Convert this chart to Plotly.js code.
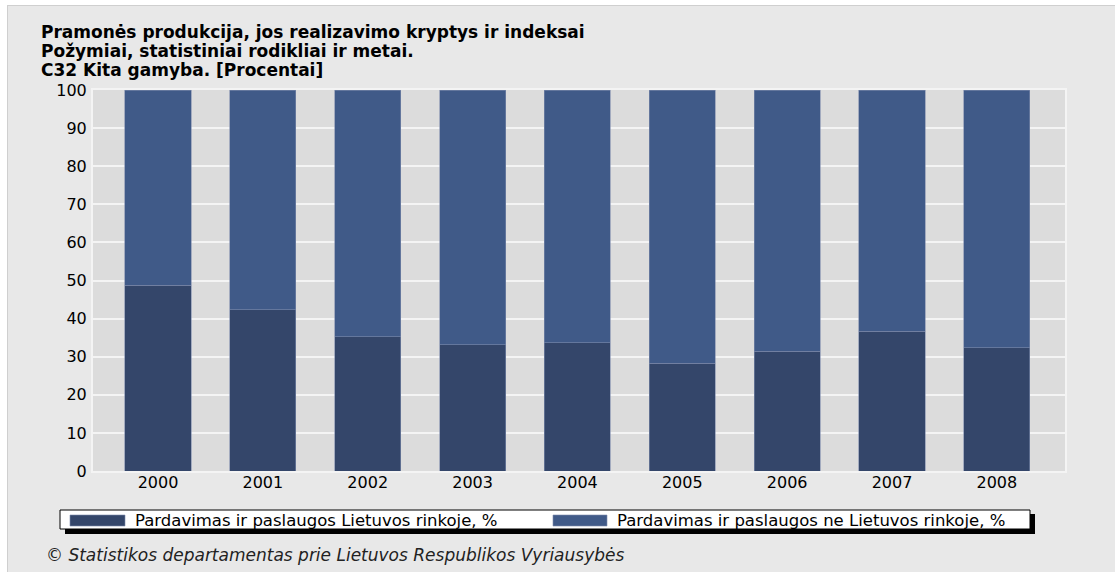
<!DOCTYPE html>
<html><head><meta charset="utf-8">
<script src="https://cdn.plot.ly/plotly-3.0.1.min.js"></script>
<style>
html,body{margin:0;padding:0;background:#fff;overflow:hidden;}
#frame{position:absolute;left:7px;top:5px;width:1108px;height:567px;border-left:1px solid #cfcfcf;border-top:1px solid #cfcfcf;background:#e8e8e8;}
#chart{width:1107px;height:566px;}
</style></head><body><div id="frame"><div id="chart"></div></div>
<script>
const years = ['2000','2001','2002','2003','2004','2005','2006','2007','2008'];
const domestic = [48.7, 42.3, 35.3, 33.2, 33.6, 28.3, 31.4, 36.7, 32.4];
const foreign = [51.3, 57.7, 64.7, 66.8, 66.4, 71.7, 68.6, 63.3, 67.6];
const seriesNames = ['Pardavimas ir paslaugos Lietuvos rinkoje, %', 'Pardavimas ir paslaugos ne Lietuvos rinkoje, %'];
const titleLines = ['Pramonės produkcija, jos realizavimo kryptys ir indeksai', 'Požymiai, statistiniai rodikliai ir metai.', 'C32 Kita gamyba. [Procentai]'];
const yTicks = [0,10,20,30,40,50,60,70,80,90,100];
const footer = '© Statistikos departamentas prie Lietuvos Respublikos Vyriausybės';
const colors = ['#34466a', '#405a88'];

// page-pixel -> paper helpers (plot area spans x 93..1065, y 90..471)
const L = 93, R = 1065, T = 90, B = 471;
const px = X => (X - L) / (R - L);
const py = Y => (B - Y) / (B - T);

const FONT = 'DejaVu Sans, Verdana, sans-serif';

const traces = [
  {type:'bar', x: years, y: domestic, name: seriesNames[0], marker:{color: colors[0], line:{color:'#7d8bab', width:0.6}}, width:0.63, hoverinfo:'x+y'},
  {type:'bar', x: years, y: foreign, name: seriesNames[1], marker:{color: colors[1], line:{color:'#7d8bab', width:0.6}}, width:0.63, hoverinfo:'x+y'}
];

const titleY = [32, 51, 70];
const annotations = [];
titleLines.forEach((t, i) => annotations.push({
  xref:'paper', yref:'paper', x: px(40), y: py(titleY[i]), xanchor:'left', yanchor:'middle', borderpad:0,
  text: t, showarrow:false, font:{family:FONT, size:17, color:'#000', weight:'bold'}
}));
annotations.push({xref:'paper', yref:'paper', x: px(133), y: py(520), xanchor:'left', yanchor:'middle',
  text: seriesNames[0], showarrow:false, font:{family:FONT, size:16.5, color:'#000'}});
annotations.push({xref:'paper', yref:'paper', x: px(615), y: py(520), xanchor:'left', yanchor:'middle',
  text: seriesNames[1], showarrow:false, font:{family:FONT, size:16.5, color:'#000'}});
annotations.push({xref:'paper', yref:'paper', x: px(44), y: py(555), xanchor:'left', yanchor:'middle',
  text: '<i>' + footer + '</i>', showarrow:false, font:{family:FONT, size:17, color:'#222'}});

const shapes = [
  {type:'rect', xref:'paper', yref:'paper', x0: px(65), x1: px(1035), y0: py(514), y1: py(534), fillcolor:'#000', line:{width:0}},
  {type:'rect', xref:'paper', yref:'paper', x0: px(60), x1: px(1030), y0: py(510), y1: py(529), fillcolor:'#fff', line:{color:'#000', width:1}},
  {type:'rect', xref:'paper', yref:'paper', x0: px(70), x1: px(125), y0: py(515), y1: py(526), fillcolor: colors[0], line:{color:'#7d8bab', width:0.6}},
  {type:'rect', xref:'paper', yref:'paper', x0: px(553), x1: px(607), y0: py(515), y1: py(526), fillcolor: colors[1], line:{color:'#7d8bab', width:0.6}}
];

const layout = {
  width:1107, height:566,
  margin:{l:85, r:50, t:84, b:101, pad:0},
  paper_bgcolor:'#e8e8e8', plot_bgcolor:'#dcdcdc',
  barmode:'stack', showlegend:false,
  font:{family:FONT, size:16, color:'#000'},
  xaxis:{type:'category', range:[-0.62, 8.65], showgrid:false, zeroline:false, ticks:'', ticklabelstandoff:-4,
         showline:true, linecolor:'#f4f4f4', linewidth:2, mirror:true, tickfont:{size:16}},
  yaxis:{range:[0,100], tickvals:yTicks, ticktext:yTicks.map(String), showgrid:true, gridcolor:'#f4f4f4', gridwidth:2,
         zeroline:false, ticks:'', ticklabelstandoff:1, showline:true, linecolor:'#f4f4f4', linewidth:2, mirror:true, tickfont:{size:16}},
  annotations, shapes
};

Plotly.newPlot('chart', traces, layout, {staticPlot:true, displayModeBar:false});
</script></body></html>
